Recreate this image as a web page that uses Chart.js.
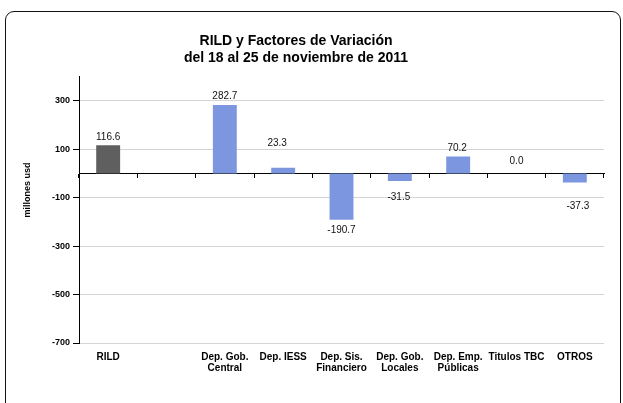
<!DOCTYPE html>
<html><head><meta charset="utf-8">
<script src="https://cdn.jsdelivr.net/npm/chart.js@4.4.1/dist/chart.umd.min.js"></script>
<style>
html,body{margin:0;padding:0;background:#fff;overflow:hidden;}
#wrap{position:relative;width:623px;height:403px;overflow:hidden;background:#fff;}
#frame{position:absolute;left:5px;top:11px;width:616px;height:430px;border:1.5px solid #111;border-radius:9px;box-sizing:border-box;}
#cv{position:absolute;left:-12px;top:0;}
</style></head><body>
<div id="wrap"><div id="frame"></div><canvas id="cv" width="635" height="403"></canvas></div>
<script>
const categories = ['RILD', '', ['Dep. Gob.', 'Central'], 'Dep. IESS', ['Dep. Sis.', 'Financiero'], ['Dep. Gob.', 'Locales'], ['Dep. Emp.', 'Públicas'], 'Titulos TBC', 'OTROS'];
const values = [116.6, null, 282.7, 23.3, -190.7, -31.5, 70.2, 0.0, -37.3];
const barColors = ['#5f5f5f', '#7c97e0', '#7c97e0', '#7c97e0', '#7c97e0', '#7c97e0', '#7c97e0', '#7c97e0', '#7c97e0'];
const yTicks = [300, 100, -100, -300, -500, -700];
const titleLines = ['RILD y Factores de Variación', 'del 18 al 25 de noviembre de 2011'];
const yTitle = 'millones usd';

const FONT = '"Liberation Sans", Arial, Helvetica, sans-serif';

const valueLabels = {
  id: 'valueLabels',
  afterDatasetsDraw(chart, args, opts) {
    const meta = chart.getDatasetMeta(0);
    const ctx = chart.ctx;
    ctx.save();
    ctx.font = '10px ' + FONT;
    ctx.fillStyle = '#111';
    ctx.textAlign = 'center';
    ctx.textBaseline = 'middle';
    meta.data.forEach((bar, i) => {
      const v = values[i];
      if (v === null || v === undefined) return;
      const dy = (v >= 0 ? -8 : 11) + (opts.nudgeY[i] || 0);
      ctx.fillText(v.toFixed(1), bar.x + (opts.nudgeX[i] || 0), bar.y + dy);
    });
    ctx.restore();
  }
};

const yTitlePlugin = {
  id: 'yTitlePlugin',
  afterDraw(chart, args, opts) {
    const ctx = chart.ctx;
    ctx.save();
    ctx.translate(opts.x, opts.y);
    ctx.rotate(-Math.PI / 2);
    ctx.font = 'bold 9px ' + FONT;
    ctx.fillStyle = '#000';
    ctx.textAlign = 'center';
    ctx.textBaseline = 'middle';
    ctx.fillText(yTitle, 0, 0);
    ctx.restore();
  }
};

new Chart(document.getElementById('cv'), {
  type: 'bar',
  data: {
    labels: categories,
    datasets: [{
      data: values,
      backgroundColor: barColors,
      borderWidth: 0,
      barPercentage: 0.41,
      categoryPercentage: 1,
      xAxisID: 'x',
      yAxisID: 'y'
    }]
  },
  options: {
    responsive: false,
    animation: false,
    layout: { padding: { left: 0, right: 19, top: 0, bottom: 0 } },
    plugins: {
      legend: { display: false },
      tooltip: { enabled: false },
      title: {
        display: true,
        text: titleLines,
        color: '#000',
        font: { family: FONT, size: 14, weight: 'bold', lineHeight: 1.2 },
        padding: { top: 33, bottom: 10 }
      },
      valueLabels: {
        nudgeY: [0, 0, -1, -17, 0, 5, 0, -4, 13],
        nudgeX: [0, 0, 0, -6, 0, -1, -1, 0, 3]
      },
      yTitlePlugin: { x: 40, y: 190 }
    },
    scales: {
      x: {
        position: 'bottom',
        offset: true,
        grid: { display: false, drawTicks: false, tickLength: 0 },
        border: { display: false },
        ticks: {
          color: '#000',
          font: { family: FONT, size: 10, weight: 'bold', lineHeight: 1.1 },
          padding: 9,
          maxRotation: 0,
          autoSkip: false
        },
        afterFit: s => { s.height = 60; }
      },
      x0: {
        type: 'category',
        axis: 'x',
        position: { y: 0 },
        offset: true,
        z: 1,
        grid: { offset: true, drawOnChartArea: false, drawTicks: true, tickLength: 4, color: '#000' },
        ticks: { display: false },
        border: { display: true, color: '#000', width: 1 }
      },
      y: {
        min: -700,
        max: 400,
        afterBuildTicks: s => { s.ticks = yTicks.map(v => ({ value: v })); },
        afterFit: s => { s.width = 91; },
        ticks: {
          color: '#000',
          font: { family: FONT, size: 9, weight: 'bold' },
          padding: 3
        },
        grid: { color: '#d4d4d4', lineWidth: 1, drawTicks: true, tickLength: 6, tickColor: '#000' },
        border: { display: true, color: '#000', width: 1 }
      }
    }
  },
  plugins: [valueLabels, yTitlePlugin]
});
</script>
</body></html>
